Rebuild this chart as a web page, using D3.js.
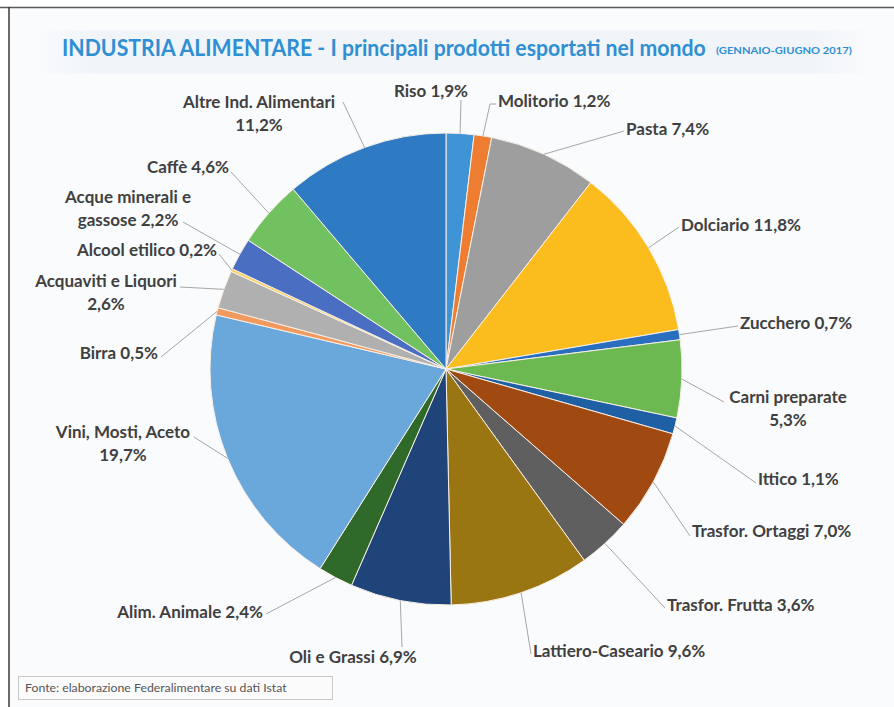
<!DOCTYPE html>
<html>
<head>
<meta charset="utf-8">
<script src="https://cdn.jsdelivr.net/npm/d3@7"></script>
<style>
  html, body { margin: 0; padding: 0; background: #ffffff; }
  svg { display: block; }
</style>
</head>
<body>
<svg id="chart" width="894" height="707"></svg>
<script>
// Export shares, Jan-Jun 2017, clockwise from 12 o'clock
var categories = ["Riso", "Molitorio", "Pasta", "Dolciario", "Zucchero", "Carni preparate",
    "Ittico", "Trasfor. Ortaggi", "Trasfor. Frutta", "Lattiero-Caseario", "Oli e Grassi",
    "Alim. Animale", "Vini, Mosti, Aceto", "Birra", "Acquaviti e Liquori", "Alcool etilico",
    "Acque minerali e gassose", "Caffè", "Altre Ind. Alimentari"];
var values = [1.9, 1.2, 7.4, 11.8, 0.7, 5.3, 1.1, 7.0, 3.6, 9.6, 6.9, 2.4, 19.7, 0.5, 2.6, 0.2, 2.2, 4.6, 11.2];
var colors = ["#3f94d6", "#ee7d31", "#9e9e9e", "#fbbd1d", "#2a6fbf", "#6cb851",
    "#1f5fa3", "#a04a12", "#5f5f5f", "#9a7612", "#1f4479",
    "#2f6a2a", "#6aa8dc", "#f29a5e", "#b0b0b0", "#fbd062",
    "#4a6fc2", "#72c161", "#2e7bc4"];

// label placement (text anchor, first baseline, words on first line, leader end)
var labelLayout = [
    {x: 431, y: 97,  anchor: "middle", wrap: 0, pts: [[461, 100]]},
    {x: 498, y: 107, anchor: "start",  wrap: 0, pts: [[490, 104], [496, 104]]},
    {x: 626, y: 135, anchor: "start",  wrap: 0, pts: [[624, 131]]},
    {x: 681, y: 231, anchor: "start",  wrap: 0, pts: [[679, 227]]},
    {x: 740, y: 329, anchor: "start",  wrap: 0, pts: [[738, 326]]},
    {x: 788, y: 403, anchor: "middle", wrap: 2, pts: [[724, 402]]},
    {x: 758, y: 485, anchor: "start",  wrap: 0, pts: [[756, 483]]},
    {x: 692, y: 537, anchor: "start",  wrap: 0, pts: [[690, 536]]},
    {x: 667, y: 611, anchor: "start",  wrap: 0, pts: [[665, 608]]},
    {x: 533, y: 657, anchor: "start",  wrap: 0, pts: [[531, 654]]},
    {x: 353, y: 663, anchor: "middle", wrap: 0, pts: [[402, 647]]},
    {x: 263, y: 618, anchor: "end",    wrap: 0, pts: [[266, 614]]},
    {x: 123, y: 438, anchor: "middle", wrap: 3, pts: [[194, 437]]},
    {x: 158, y: 359, anchor: "end",    wrap: 0, pts: [[161, 357]]},
    {x: 106, y: 287, anchor: "middle", wrap: 3, pts: [[180, 287]]},
    {x: 217, y: 256, anchor: "end",    wrap: 0, pts: [[219, 254]]},
    {x: 128, y: 203, anchor: "middle", wrap: 3, pts: [[183, 222]]},
    {x: 229, y: 173, anchor: "end",    wrap: 0, pts: [[231, 172]]},
    {x: 259, y: 108, anchor: "middle", wrap: 3, pts: [[343, 102]]}
];

var titleText = "INDUSTRIA ALIMENTARE - I principali prodotti esportati nel mondo";
var periodText = "(GENNAIO-GIUGNO 2017)";
var sourceText = "Fonte: elaborazione Federalimentare su dati Istat";

var svg = d3.select("#chart");
var width = 894, height = 707;
var cx = 446, cy = 369, radius = 236;
var font = "Lato, 'Open Sans', sans-serif";

// page background and scan frame
svg.append("rect").attr("x", 9).attr("y", 7).attr("width", width - 9).attr("height", height - 7)
    .attr("fill", "#fafbfd");

var defs = svg.append("defs");
var band = defs.append("linearGradient").attr("id", "band").attr("x1", 0).attr("x2", 1);
band.append("stop").attr("offset", "0").attr("stop-color", "#fafbfd");
band.append("stop").attr("offset", "0.08").attr("stop-color", "#eef3f8");
band.append("stop").attr("offset", "0.92").attr("stop-color", "#eef3f8");
band.append("stop").attr("offset", "1").attr("stop-color", "#fafbfd");
svg.append("rect").attr("x", 30).attr("y", 30).attr("width", 845).attr("height", 44)
    .attr("fill", "url(#band)").attr("opacity", 0.8);

svg.append("line").attr("x1", 0).attr("x2", width).attr("y1", 7.5).attr("y2", 7.5)
    .attr("stroke", "#5a5a5a").attr("stroke-width", 1.5);
svg.append("line").attr("x1", 9).attr("x2", 9).attr("y1", 7).attr("y2", height)
    .attr("stroke", "#3a3a3a").attr("stroke-width", 1.5);

// squeeze a text horizontally so it spans the given width (the original uses a narrow font)
function fitText(sel, x, y, w) {
    var natural = sel.node().getComputedTextLength();
    sel.attr("transform", "translate(" + x + "," + y + ") scale(" + (w / natural) + ",1)");
}

// title
var title = svg.append("text")
    .attr("font-family", font)
    .attr("font-weight", "bold")
    .attr("font-size", 22)
    .attr("fill", "#2f8fd3")
    .text(titleText);
fitText(title, 62, 56, 644);

var period = svg.append("text")
    .attr("font-family", font)
    .attr("font-weight", "bold")
    .attr("font-size", 9)
    .attr("fill", "#2f8fd3")
    .text(periodText);
fitText(period, 716, 54, 136);

// pie
var pie = d3.pie().sort(null).value(function(d) { return d; });
var arcs = pie(values);
var arc = d3.arc().innerRadius(0).outerRadius(radius);
var edge = d3.arc().innerRadius(radius).outerRadius(radius);

var g = svg.append("g").attr("transform", "translate(" + cx + "," + cy + ")");

g.selectAll("path.slice")
    .data(arcs)
    .enter().append("path")
    .attr("class", "slice")
    .attr("d", arc)
    .attr("fill", function(d, i) { return colors[i]; })
    .attr("stroke", "#f8efe6")
    .attr("stroke-width", 1);

// leader lines
var line = d3.line();
svg.append("g")
    .selectAll("path")
    .data(arcs)
    .enter().append("path")
    .attr("fill", "none")
    .attr("stroke", "#a6a6a6")
    .attr("stroke-width", 1)
    .attr("d", function(d, i) {
        var c = edge.centroid(d);
        var p = [[cx + c[0], cy + c[1]]].concat(labelLayout[i].pts);
        return line(p);
    });

// labels
function fmt(v) { return v.toFixed(1).replace(".", ",") + "%"; }

var labels = svg.append("g")
    .attr("font-family", font)
    .attr("font-weight", "bold")
    .attr("font-size", 17)
    .attr("fill", "#404040");

categories.forEach(function(name, i) {
    var lay = labelLayout[i];
    var words = (name + " " + fmt(values[i])).split(" ");
    var lines = lay.wrap ? [words.slice(0, lay.wrap).join(" "), words.slice(lay.wrap).join(" ")]
                         : [words.join(" ")];
    var t = labels.append("text")
        .attr("text-anchor", lay.anchor);
    lines.forEach(function(s, k) {
        t.append("tspan").attr("x", lay.x).attr("y", lay.y + k * 23).text(s);
    });
});

// source box
svg.append("rect").attr("x", 18.5).attr("y", 676.5).attr("width", 314).attr("height", 23)
    .attr("fill", "#fbfbfc").attr("stroke", "#c8c8c8");
var source = svg.append("text")
    .attr("font-family", font)
    .attr("font-size", 11.5)
    .attr("fill", "#555555")
    .text(sourceText);
fitText(source, 25, 692, 262);
</script>
</body>
</html>
